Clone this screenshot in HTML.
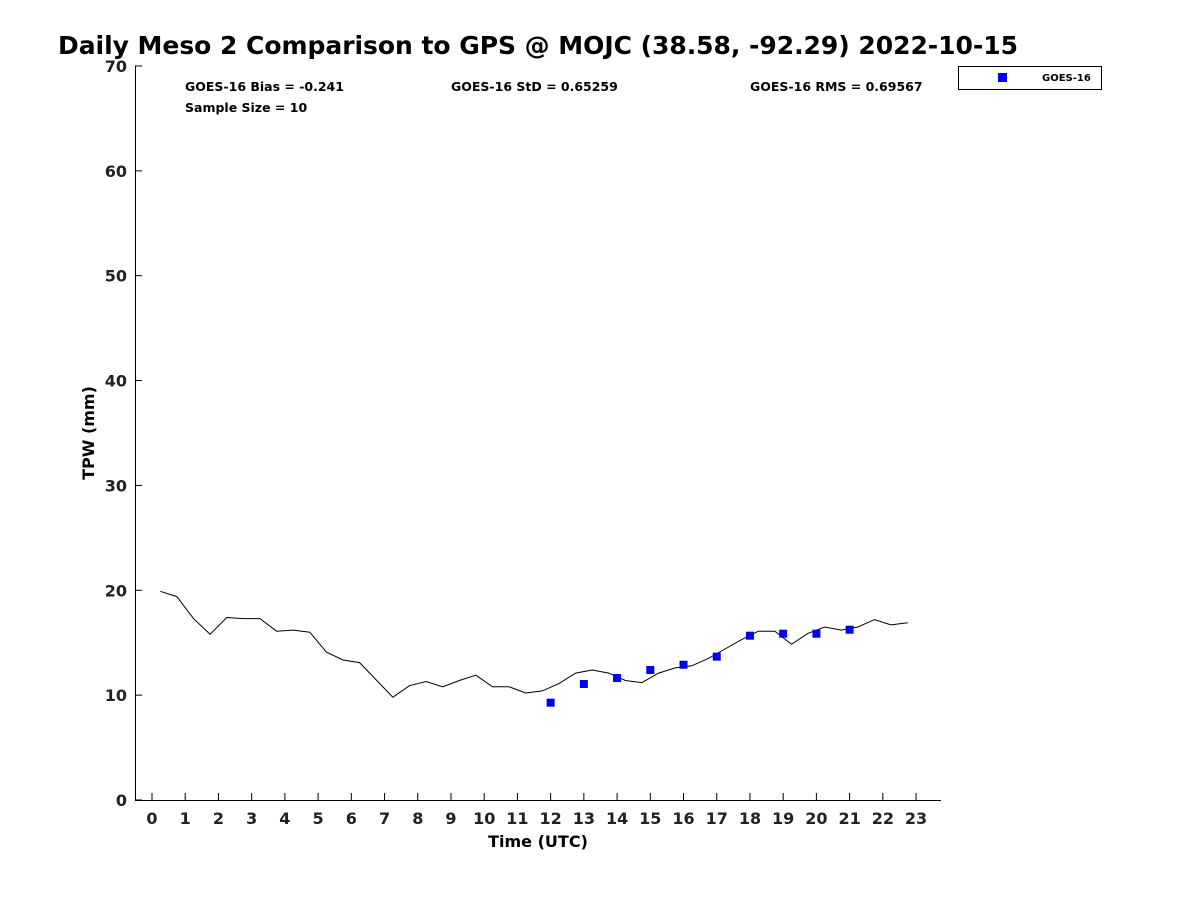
<!DOCTYPE html>
<html><head><meta charset="utf-8"><style>
body{margin:0;background:#fff;width:1200px;height:900px;overflow:hidden;font-family:"Liberation Sans","DejaVu Sans",sans-serif}
</style></head><body>
<svg id="c" width="1200" height="900" xmlns="http://www.w3.org/2000/svg" font-family="DejaVu Sans, Liberation Sans, sans-serif">
<text x="58" y="54" font-size="25" font-weight="bold" fill="#000" textLength="960">Daily Meso 2 Comparison to GPS @ MOJC (38.58, -92.29) 2022-10-15</text>
<line x1="135.5" y1="66" x2="135.5" y2="800" stroke="#000"/>
<line x1="135" y1="800.5" x2="941" y2="800.5" stroke="#000"/>
<g id="ax"></g>
<text x="185" y="91" font-size="12.5" font-weight="bold">GOES-16 Bias = -0.241</text>
<text x="185" y="112" font-size="12.5" font-weight="bold">Sample Size = 10</text>
<text x="451" y="91" font-size="12.5" font-weight="bold">GOES-16 StD = 0.65259</text>
<text x="750" y="91" font-size="12.5" font-weight="bold">GOES-16 RMS = 0.69567</text>
<g>
<rect x="958.5" y="66.5" width="143" height="23" fill="#fff" stroke="#000"/>
<rect x="998" y="73" width="9" height="9" fill="#0000ee"/>
<text x="1042" y="81" font-size="10" font-weight="bold">GOES-16</text>
</g>
<text transform="translate(94,433) rotate(-90)" text-anchor="middle" font-size="16" font-weight="bold">TPW (mm)</text>
<text x="538" y="847" text-anchor="middle" font-size="16" font-weight="bold">Time (UTC)</text>
</svg>
<script>
const yTicks=[0,10,20,30,40,50,60,70];
const xTicks=[0,1,2,3,4,5,6,7,8,9,10,11,12,13,14,15,16,17,18,19,20,21,22,23];
const gpsValues=[19.9,19.4,17.3,15.8,17.4,17.3,17.3,16.1,16.2,16.0,14.1,13.35,13.1,11.45,9.8,10.9,11.3,10.8,11.4,11.9,10.8,10.8,10.2,10.4,11.1,12.1,12.4,12.1,11.4,11.2,12.1,12.6,12.8,13.5,14.4,15.3,16.1,16.1,14.85,15.9,16.5,16.2,16.5,17.2,16.7,16.9];
const goesHours=[12,13,14,15,16,17,18,19,20,21];
const goesValues=[9.28,11.06,11.63,12.4,12.9,13.67,15.67,15.86,15.86,16.24];
const NS="http://www.w3.org/2000/svg";
const X=h=>152+h*33.22, Y=v=>800-v*10.486;
const svg=document.getElementById('c'), ax=document.getElementById('ax');
function mk(t,a){const e=document.createElementNS(NS,t);for(const k in a)e.setAttribute(k,a[k]);return e;}
yTicks.forEach(v=>{
 const l=mk('line',{x1:135,x2:142,y1:Y(v),y2:Y(v),stroke:'#000'});
 
 
 ax.appendChild(l);
 const t=mk('text',{x:127,y:Y(v)+6,'text-anchor':'end','font-size':16,'font-weight':'bold',fill:'#222'});
 t.textContent=v;
 
 
 ax.appendChild(t);
});
xTicks.forEach(h=>{
 const l=mk('line',{x1:X(h),x2:X(h),y1:800,y2:793,stroke:'#000'});
 
 
 ax.appendChild(l);
 const t=mk('text',{x:X(h),y:824,'text-anchor':'middle','font-size':16,'font-weight':'bold',fill:'#222'});
 t.textContent=h;
 
 
 ax.appendChild(t);
});
const pts=gpsValues.map((v,i)=>X(0.25+i*0.5).toFixed(1)+','+Y(v).toFixed(1)).join(' ');
const pl=mk('polyline',{points:pts,fill:'none',stroke:'#000','stroke-width':1});


svg.appendChild(pl);
goesValues.forEach((v,i)=>{
 const r=mk('rect',{x:X(goesHours[i])-4,y:Y(v)-4,width:8,height:8,fill:'#0000ee'});
 
 
 svg.appendChild(r);
});
</script>
</body></html>
